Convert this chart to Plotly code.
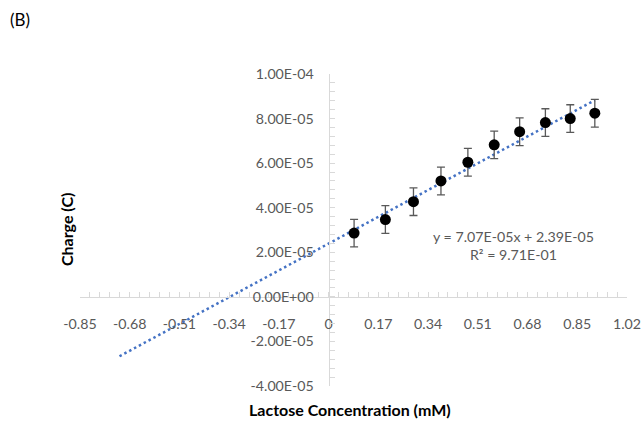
import numpy as np
import plotly.graph_objects as go

# ---- data ----
conc_mM = [0.087, 0.194, 0.290, 0.384, 0.476, 0.566, 0.653, 0.741, 0.826, 0.910]
charge_C = [2.86e-5, 3.47e-5, 4.27e-5, 5.20e-5, 6.04e-5, 6.82e-5, 7.41e-5, 7.82e-5, 8.00e-5, 8.24e-5]
charge_err = [6.2e-6, 6.2e-6, 6.2e-6, 6.2e-6, 6.2e-6, 6.2e-6, 6.2e-6, 6.2e-6, 6.2e-6, 6.2e-6]

fit_slope = 7.07e-5
fit_intercept = 2.39e-5
fit_r2_text = "9.71E-01"
trend_start_x = -0.715

x_tick_vals = [-0.85, -0.68, -0.51, -0.34, -0.17, 0, 0.17, 0.34, 0.51, 0.68, 0.85, 1.02]
x_tick_text = ["-0.85", "-0.68", "-0.51", "-0.34", "-0.17", "0", "0.17", "0.34", "0.51", "0.68", "0.85", "1.02"]
y_tick_vals = [-4e-5, -2e-5, 0, 2e-5, 4e-5, 6e-5, 8e-5, 1e-4]
y_tick_text = ["-4.00E-05", "-2.00E-05", "0.00E+00", "2.00E-05", "4.00E-05", "6.00E-05", "8.00E-05", "1.00E-04"]

x_range = [-0.85, 1.02]
y_range = [-4e-5, 1e-4]

FONT = "Lato"
AXIS_COL = "#D9D9D9"
TXT_COL = "#595959"
TICK_SIZE = 14.2

trend_x = np.array([trend_start_x, conc_mM[-1]])
trend_y = fit_slope * trend_x + fit_intercept

fig = go.Figure()
fig.add_trace(go.Scatter(
    x=trend_x, y=trend_y, mode="lines",
    line=dict(color="#4472C4", width=2.5, dash="2.5px,3px"),
    hoverinfo="skip", showlegend=False))
fig.add_trace(go.Scatter(
    x=conc_mM, y=charge_C, mode="markers",
    marker=dict(color="black", size=11),
    error_y=dict(type="data", array=charge_err, visible=True,
                 color="#595959", thickness=1.3, width=4),
    showlegend=False))

# axes cross at zero
x_pos = (0 - y_range[0]) / (y_range[1] - y_range[0])
y_pos = (0 - x_range[0]) / (x_range[1] - x_range[0])

fig.update_layout(
    width=642, height=421, autosize=False,
    margin=dict(l=80, r=15, t=74, b=35, autoexpand=False),
    paper_bgcolor="white", plot_bgcolor="white",
    font=dict(family=FONT, color=TXT_COL, size=TICK_SIZE),
    xaxis=dict(range=x_range, anchor="free", position=x_pos, automargin=False,
               showline=True, linecolor=AXIS_COL, linewidth=1,
               ticks="inside", ticklen=5, tickcolor=AXIS_COL, tickwidth=1,
               tickmode="array", tickvals=x_tick_vals, ticktext=x_tick_text,
               tickfont=dict(family=FONT, color=TXT_COL, size=TICK_SIZE),
               ticklabelstandoff=14,
               showgrid=False, zeroline=False,
               minor=dict(ticks="inside", ticklen=5, tickcolor=AXIS_COL,
                          tickmode="linear", tick0=0, dtick=0.034, showgrid=False)),
    yaxis=dict(range=y_range, anchor="free", position=y_pos, side="left", automargin=False,
               showline=True, linecolor=AXIS_COL, linewidth=1,
               ticks="inside", ticklen=5, tickcolor=AXIS_COL, tickwidth=1,
               tickmode="array", tickvals=y_tick_vals, ticktext=y_tick_text,
               tickfont=dict(family=FONT, color=TXT_COL, size=TICK_SIZE),
               ticklabelstandoff=12,
               showgrid=False, zeroline=False,
               minor=dict(ticks="inside", ticklen=5, tickcolor=AXIS_COL,
                          tickmode="linear", tick0=0, dtick=4e-6, showgrid=False)),
)

# plot area in px: x 80..627, y 74..386
def px_x(px):
    return (px - 80) / 547.0

def px_y(py):
    return (386 - py) / 312.0

fig.add_annotation(text="(B)", xref="paper", yref="paper",
                   x=px_x(8), y=px_y(20), xanchor="left", yanchor="middle",
                   showarrow=False, font=dict(family=FONT, size=17, color="#000000"))
fig.add_annotation(text="<b>Charge (C)</b>", xref="paper", yref="paper",
                   x=px_x(66), y=px_y(230), xanchor="center", yanchor="middle",
                   textangle=-90, showarrow=False,
                   font=dict(family=FONT, size=16, color="#000000"))
fig.add_annotation(text="<b>Lactose Concentration (mM)</b>", xref="paper", yref="paper",
                   x=px_x(350), y=px_y(409), xanchor="center", yanchor="middle",
                   showarrow=False, font=dict(family=FONT, size=16, color="#000000"))
eq_text = "y = %.2Ex + %.2E<br>R² = %s" % (fit_slope, fit_intercept, fit_r2_text)
fig.add_annotation(text=eq_text, xref="paper", yref="paper",
                   x=px_x(513), y=px_y(245), xanchor="center", yanchor="middle",
                   align="center", showarrow=False,
                   font=dict(family=FONT, size=14.2, color=TXT_COL))

fig.write_html("out.html")
